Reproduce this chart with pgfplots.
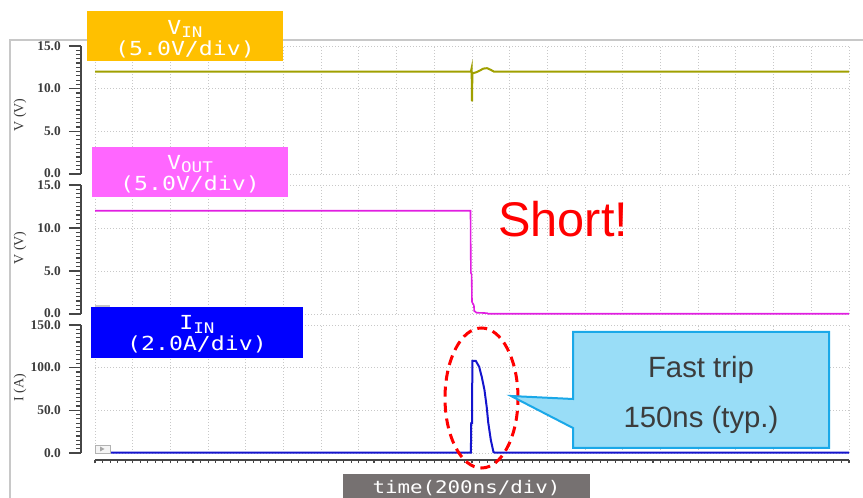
\documentclass[border=0pt]{standalone}
\usepackage{pgfplots}
\pgfplotsset{compat=1.18}
\usepackage{fontspec}
\setmainfont{Liberation Sans}
\newfontfamily\boxfont[FakeStretch=1.2]{DejaVu Sans Mono}
\newfontfamily\serifnum{Liberation Serif}
\definecolor{vinc}{RGB}{160,160,0}
\definecolor{voutc}{RGB}{225,30,225}
\definecolor{iinc}{RGB}{20,20,205}
\definecolor{vinbox}{RGB}{255,192,0}
\definecolor{voutbox}{RGB}{255,102,255}
\definecolor{iinbox}{RGB}{0,0,255}
\definecolor{callfill}{RGB}{153,221,247}
\definecolor{calldraw}{RGB}{26,168,232}
\definecolor{xlabbox}{RGB}{118,113,113}
\definecolor{gridc}{RGB}{200,200,200}
\definecolor{axc}{RGB}{70,70,70}
\definecolor{tickc}{RGB}{60,60,60}
\definecolor{txtc}{RGB}{60,60,60}
\definecolor{framec}{RGB}{200,200,200}

\pgfplotsset{
  dataax/.style={
    anchor=south west, scale only axis, width=565.5pt,
    xmin=0, xmax=20,
    xtick={0,...,20}, xticklabels={}, yticklabels={},
    major tick length=0pt,
    grid=major,
    major grid style={draw=gridc, dash pattern=on 0.75pt off 1.5pt, line width=0.7pt},
    axis line style={draw=none},
    clip=false,
  },
  rulerax/.style={
    anchor=south west, scale only axis, width=8pt,
    xmin=0, xmax=1,
    axis y line=left, axis x line=none,
    y axis line style={-, draw=axc, line width=1pt},
    tick style={draw=axc, line width=0.9pt},
    tick align=outside,
    major tick length=9pt, minor tick length=3.75pt,
    yticklabel style={font=\serifnum\bfseries\fontsize{10}{10}\selectfont, text=tickc, inner sep=0pt, xshift=-6pt},
  },
}

\begin{document}
\begin{tikzpicture}[x=0.75pt, y=0.75pt]
\useasboundingbox (0,0) rectangle (863,498);

% outer frame
\draw[framec, line width=1.1pt] (10,0) -- (10,458) -- (863,458);

% ---------- Panel 1 : VIN ----------
\begin{axis}[dataax, at={(71.25pt,243pt)}, height=96pt, ymin=0, ymax=15, ytick={0,5,10,15}]
\addplot[vinc, line width=1.5pt] coordinates {
(0,12) (9.97,12) (9.99,12.4) (10.0,8.5) (10.01,11.8) (10.1,11.9) (10.2,12.1)
(10.3,12.35) (10.4,12.4) (10.5,12.2) (10.58,12.0) (20,12)};
\end{axis}
\begin{axis}[rulerax, at={(60.75pt,243pt)}, height=96pt, ymin=0, ymax=15,
  ytick={0,5,10,15}, yticklabels={\raisebox{2pt}{0.0},5.0,10.0,15.0}, minor y tick num=9]
\end{axis}

% ---------- Panel 2 : VOUT ----------
\begin{axis}[dataax, at={(71.25pt,138pt)}, height=96.75pt, ymin=0, ymax=15, ytick={0,5,10,15}]
\addplot[voutc, line width=1.2pt] coordinates {
(0,12) (9.96,12) (9.97,4.8) (9.99,4.6) (10.0,1.4) (10.05,1.0) (10.06,0.35)
(10.12,0.15) (10.4,0.1) (10.42,0.03) (20,0.03)};
\end{axis}
\begin{axis}[rulerax, at={(60.75pt,138pt)}, height=96.75pt, ymin=0, ymax=15,
  ytick={0,5,10,15}, yticklabels={\raisebox{2pt}{0.0},5.0,10.0,\raisebox{-0.5pt}{15.0}}, minor y tick num=9]
\end{axis}

% ---------- Panel 3 : IIN ----------
\begin{axis}[dataax, at={(71.25pt,33.75pt)}, height=96pt, ymin=0, ymax=150, ytick={0,50,100,150}]
\addplot[iinc, line width=1.5pt] coordinates {
(0,0.4) (9.97,0.4) (9.98,35) (10.0,35) (10.01,108) (10.1,108) (10.19,101)
(10.26,89) (10.33,74) (10.39,54) (10.43,36) (10.5,15) (10.57,1) (10.61,0.4) (20,0.4)};
\end{axis}
\begin{axis}[rulerax, at={(60.75pt,33.75pt)}, height=96pt, ymin=0, ymax=150,
  ytick={0,50,100,150}, yticklabels={0.0,50.0,100.0,\raisebox{-0.5pt}{150.0}}, minor y tick num=9]
\end{axis}

% ---------- x ruler ----------
\begin{axis}[anchor=south west, scale only axis, at={(71.25pt,28.5pt)}, width=565.5pt, height=4pt,
  xmin=0, xmax=20, ymin=0, ymax=1,
  axis x line=bottom, axis y line=none,
  x axis line style={-, draw=axc, line width=0.9pt},
  tick style={draw=axc, line width=0.8pt},
  xtick={0,...,20}, xticklabels={}, minor x tick num=4,
  tick align=outside, major tick length=2.6pt, minor tick length=2.2pt]
\end{axis}

% small gray markers
\fill[gray!45] (95,193) rectangle (110,189);
\draw[gray!60, fill=gray!8, line width=0.6pt] (95,53) rectangle (110,45);
\fill[gray!70] (100,51.5) -- (100,46.5) -- (104.5,49) -- cycle;

% y labels
\node[rotate=90, font=\serifnum\fontsize{10.5}{10.5}\selectfont, text=txtc] at (20,383) {V (V)};
\node[rotate=90, font=\serifnum\fontsize{10.5}{10.5}\selectfont, text=txtc] at (20,250) {V (V)};
\node[rotate=90, font=\serifnum\fontsize{10.5}{10.5}\selectfont, text=txtc] at (20,110) {I (A)};

% label boxes
\fill[vinbox] (87,487) rectangle (283,437);
\node[align=center, text=white, font=\boxfont\fontsize{14.5}{15.5}\selectfont] at (185,459)
  {V\raisebox{-0.3ex}{\fontsize{11}{11}\selectfont IN}\\(5.0V/div)};
\fill[voutbox] (92,351) rectangle (288,301);
\node[align=center, text=white, font=\boxfont\fontsize{14.5}{15.5}\selectfont] at (190,324)
  {V\raisebox{-0.3ex}{\fontsize{11}{11}\selectfont OUT}\\(5.0V/div)};
\fill[iinbox] (91,191) rectangle (303,140);
\node[align=center, text=white, font=\boxfont\fontsize{14.5}{15.5}\selectfont] at (197,163.5)
  {I\raisebox{-0.3ex}{\fontsize{11}{11}\selectfont IN}\\(2.0A/div)};

% Short!
\node[anchor=base west, inner sep=0pt, text=red, font=\fontsize{36.5}{36.5}\selectfont] at (498,261) {Short!};

% red dashed ellipse
\draw[red, line width=2.25pt, dash pattern=on 7.5pt off 4.5pt] (481.5,100) ellipse [x radius=36.5, y radius=70];

% callout
\draw[fill=callfill, draw=calldraw, line width=1.5pt, line join=miter]
  (573,166) -- (829,166) -- (829,50) -- (573,50) -- (573,70) -- (511,102) -- (573,99) -- cycle;
\node[anchor=base, inner sep=0pt, text=txtc, font=\fontsize{22}{22}\selectfont] at (701,120) {Fast trip};
\node[anchor=base, inner sep=0pt, text=txtc, font=\fontsize{22}{22}\selectfont] at (701,70) {150ns (typ.)};

% x label box
\fill[xlabbox] (343,0) rectangle (590,24);
\node[text=white, font=\boxfont\fontsize{13}{13}\selectfont] at (466.5,10) {time(200ns/div)};
\end{tikzpicture}
\end{document}
